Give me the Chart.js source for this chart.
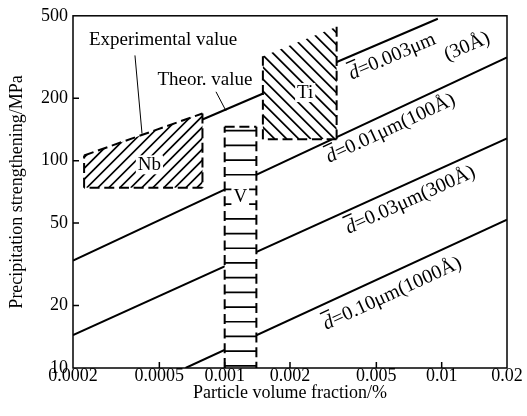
<!DOCTYPE html>
<html lang="en">
<head>
<meta charset="UTF-8" />
<title>Precipitation strengthening vs particle volume fraction</title>
<script src="https://cdn.jsdelivr.net/npm/chart.js"></script>
<style>
  html, body { margin: 0; padding: 0; background: #fff; }
</style>
</head>
<body>
<canvas id="chart" width="527" height="416"></canvas>
<script>
// axis ticks
const xTicks = [0.0002, 0.0005, 0.001, 0.002, 0.005, 0.01, 0.02];
const xTickLabels = ['0.0002', '0.0005', '0.001', '0.002', '0.005', '0.01', '0.02'];
const yTicks = [10, 20, 50, 100, 200, 500];
const yTickLabels = ['10', '20', '50', '100', '200', '500'];

// theoretical lines (volume fraction %, MPa)
const d003X = [0.00079, 0.0096];
const d003Y = [158, 484];
const d01X = [0.0002, 0.02];
const d01Y = [33, 315];
const d03X = [0.0002, 0.02];
const d03Y = [14.4, 128];
const d10X = [0.00066, 0.02];
const d10Y = [10, 52];

// experimental ranges
const nbX = [0.000225, 0.00079, 0.00079, 0.000225];
const nbY = [106, 169, 74, 74];
const vX = [0.001, 0.0014, 0.0014, 0.001];
const vY = [146, 146, 10, 10];
const tiX = [0.0015, 0.00328, 0.00328, 0.0015];
const tiY = [319, 443, 127, 127];

const FONT = "'Liberation Serif', 'Times New Roman', serif";

function pts(xs, ys) {
  return xs.map((v, i) => ({ x: v, y: ys[i] }));
}

function lineSet(xs, ys) {
  return {
    data: pts(xs, ys),
    showLine: true,
    borderColor: '#000',
    borderWidth: 2,
    pointRadius: 0,
    fill: false
  };
}

// boxes drawn over the lines, white filled
const boxes = [
  { xs: nbX, ys: nbY, hatch: 'up', step: 11, edges: [[0, 1], [1, 2], [2, 3], [3, 0]], name: 'Nb', lx: 0.00045, ly: 95 },
  { xs: vX, ys: vY, hatch: 'flat', step: 14.7, edges: [[0, 1], [1, 2], [3, 0]], name: 'V', lx: 0.00118, ly: 67 },
  { xs: tiX, ys: tiY, hatch: 'down', step: 12, edges: [[1, 2], [2, 3], [3, 0]], name: 'Ti', lx: 0.00235, ly: 212 }
];

const dLabels = [
  { text: '=0.003μm', x: 0.0059, y: 320, xs: d003X, ys: d003Y },
  { text: '=0.01μm(100Å)', x: 0.0058, y: 144, xs: d01X, ys: d01Y },
  { text: '=0.03μm(300Å)', x: 0.00715, y: 65, xs: d03X, ys: d03Y },
  { text: '=0.10μm(1000Å)', x: 0.0059, y: 23, xs: d10X, ys: d10Y }
];

function polyPath(ctx, xs, ys, sx, sy) {
  ctx.beginPath();
  xs.forEach((v, i) => {
    const px = sx.getPixelForValue(v), py = sy.getPixelForValue(ys[i]);
    if (i) ctx.lineTo(px, py); else ctx.moveTo(px, py);
  });
  ctx.closePath();
}

function whiteText(ctx, text, px, py) {
  const w = ctx.measureText(text).width;
  ctx.fillStyle = '#fff';
  ctx.fillRect(px - w / 2 - 2, py - 10, w + 4, 19);
  ctx.fillStyle = '#000';
  ctx.fillText(text, px, py);
}

const boxPlugin = {
  id: 'boxes',
  afterDatasetsDraw(chart) {
    const { ctx, scales: { x, y } } = chart;
    boxes.forEach(b => {
      const pxs = b.xs.map(v => x.getPixelForValue(v));
      const pys = b.ys.map(v => y.getPixelForValue(v));
      const l = Math.min(...pxs), r = Math.max(...pxs);
      const t = Math.min(...pys), bo = Math.max(...pys);
      ctx.save();
      polyPath(ctx, b.xs, b.ys, x, y);
      ctx.fillStyle = '#fff';
      ctx.fill();
      ctx.clip();
      ctx.strokeStyle = '#000';
      ctx.lineWidth = 1.7;
      ctx.beginPath();
      if (b.hatch === 'flat') {
        for (let yy = t + 4; yy < bo; yy += b.step) {
          ctx.moveTo(l, yy); ctx.lineTo(r, yy);
        }
      } else if (b.hatch === 'up') {
        for (let c = l + t; c < r + bo + 20; c += b.step) {
          ctx.moveTo(c - t, t); ctx.lineTo(c - bo, bo);
        }
      } else {
        for (let c = l - bo; c < r - t + 20; c += b.step) {
          ctx.moveTo(c + t, t); ctx.lineTo(c + bo, bo);
        }
      }
      ctx.stroke();
      ctx.restore();

      ctx.save();
      ctx.strokeStyle = '#000';
      ctx.lineWidth = 2;
      ctx.setLineDash([10, 4.7]);
      b.edges.forEach(([i, j]) => {
        ctx.beginPath();
        ctx.moveTo(pxs[i], pys[i]);
        ctx.lineTo(pxs[j], pys[j]);
        ctx.stroke();
      });
      ctx.setLineDash([]);
      ctx.font = '19px ' + FONT;
      ctx.textAlign = 'center';
      ctx.textBaseline = 'middle';
      whiteText(ctx, b.name, x.getPixelForValue(b.lx), y.getPixelForValue(b.ly));
      ctx.restore();
    });
  },
  afterDraw(chart) {
    const { ctx, chartArea: a, scales: { x, y } } = chart;
    ctx.save();
    ctx.strokeStyle = '#000';
    ctx.lineWidth = 1.5;
    ctx.strokeRect(a.left, a.top, a.right - a.left, a.bottom - a.top);
    ctx.beginPath();
    x.ticks.forEach((tk, i) => {
      if (i === 0 || i === x.ticks.length - 1) return;
      const px = x.getPixelForValue(tk.value);
      ctx.moveTo(px, a.bottom); ctx.lineTo(px, a.bottom - 6);
    });
    y.ticks.forEach((tk, i) => {
      if (i === 0 || i === y.ticks.length - 1) return;
      const py = y.getPixelForValue(tk.value);
      ctx.moveTo(a.left, py); ctx.lineTo(a.left + 6, py);
    });
    ctx.stroke();

    // leader lines
    ctx.lineWidth = 1;
    ctx.beginPath();
    ctx.moveTo(x.getPixelForValue(0.000386), y.getPixelForValue(322));
    ctx.lineTo(x.getPixelForValue(0.000416), y.getPixelForValue(135));
    ctx.moveTo(x.getPixelForValue(0.000912), y.getPixelForValue(215));
    ctx.lineTo(x.getPixelForValue(0.001014), y.getPixelForValue(174));
    ctx.stroke();

    ctx.fillStyle = '#000';
    ctx.font = '19px ' + FONT;
    ctx.textAlign = 'center';
    ctx.textBaseline = 'middle';
    ctx.fillText('Experimental value', x.getPixelForValue(0.00052), y.getPixelForValue(380));
    ctx.fillText('Theor. value', x.getPixelForValue(0.000811), y.getPixelForValue(245));

    // labels along the lines
    dLabels.forEach(lb => {
      const x1 = x.getPixelForValue(lb.xs[0]), y1 = y.getPixelForValue(lb.ys[0]);
      const x2 = x.getPixelForValue(lb.xs[1]), y2 = y.getPixelForValue(lb.ys[1]);
      const ang = Math.atan2(y2 - y1, x2 - x1);
      ctx.save();
      ctx.translate(x.getPixelForValue(lb.x), y.getPixelForValue(lb.y));
      ctx.rotate(ang);
      ctx.font = 'italic 20px ' + FONT;
      const wd = ctx.measureText('d').width;
      ctx.font = '20px ' + FONT;
      const wr = ctx.measureText(lb.text).width;
      const sx = -(wd + wr) / 2;
      ctx.textAlign = 'left';
      ctx.textBaseline = 'alphabetic';
      ctx.font = 'italic 20px ' + FONT;
      ctx.fillText('d', sx, 6);
      ctx.fillRect(sx + 1, -12, wd, 1.4);
      ctx.font = '20px ' + FONT;
      ctx.fillText(lb.text, sx + wd, 6);
      ctx.restore();
    });
    const ax1 = x.getPixelForValue(d003X[0]), ay1 = y.getPixelForValue(d003Y[0]);
    const ax2 = x.getPixelForValue(d003X[1]), ay2 = y.getPixelForValue(d003Y[1]);
    ctx.save();
    ctx.translate(x.getPixelForValue(0.0131), y.getPixelForValue(355));
    ctx.rotate(Math.atan2(ay2 - ay1, ax2 - ax1));
    ctx.font = '20px ' + FONT;
    ctx.fillText('(30Å)', 0, 0);
    ctx.restore();
    ctx.restore();
  }
};

new Chart(document.getElementById('chart'), {
  type: 'scatter',
  data: {
    datasets: [
      lineSet(d003X, d003Y),
      lineSet(d01X, d01Y),
      lineSet(d03X, d03Y),
      lineSet(d10X, d10Y)
    ]
  },
  options: {
    responsive: false,
    animation: false,
    devicePixelRatio: 1,
    layout: { padding: { top: 12, right: 20, left: 0, bottom: 0 } },
    plugins: { legend: { display: false }, tooltip: { enabled: false } },
    scales: {
      x: {
        type: 'logarithmic',
        min: 0.0002,
        max: 0.02,
        afterBuildTicks: s => { s.ticks = xTicks.map(v => ({ value: v })); },
        afterFit: s => { s.height = 48; },
        grid: { display: false, drawTicks: false },
        border: { display: false },
        ticks: {
          autoSkip: false,
          maxRotation: 0,
          padding: -3,
          color: '#000',
          font: { family: FONT, size: 18 },
          callback: (v, i) => xTickLabels[i]
        },
        title: {
          display: true,
          text: 'Particle volume fraction/%',
          color: '#000',
          font: { family: FONT, size: 18 },
          padding: { top: 0, bottom: 12 }
        }
      },
      y: {
        type: 'logarithmic',
        min: 10,
        max: 500,
        afterBuildTicks: s => { s.ticks = yTicks.map(v => ({ value: v })); },
        afterFit: s => { s.width = 73; },
        grid: { display: false, drawTicks: false },
        border: { display: false },
        ticks: {
          autoSkip: false,
          padding: 5,
          color: '#000',
          font: { family: FONT, size: 18 },
          callback: (v, i) => yTickLabels[i]
        },
        title: {
          display: true,
          text: 'Precipitation strengthening/MPa',
          color: '#000',
          font: { family: FONT, size: 18 },
          padding: { top: 6, bottom: 0 }
        }
      }
    }
  },
  plugins: [boxPlugin]
});
</script>
</body>
</html>
